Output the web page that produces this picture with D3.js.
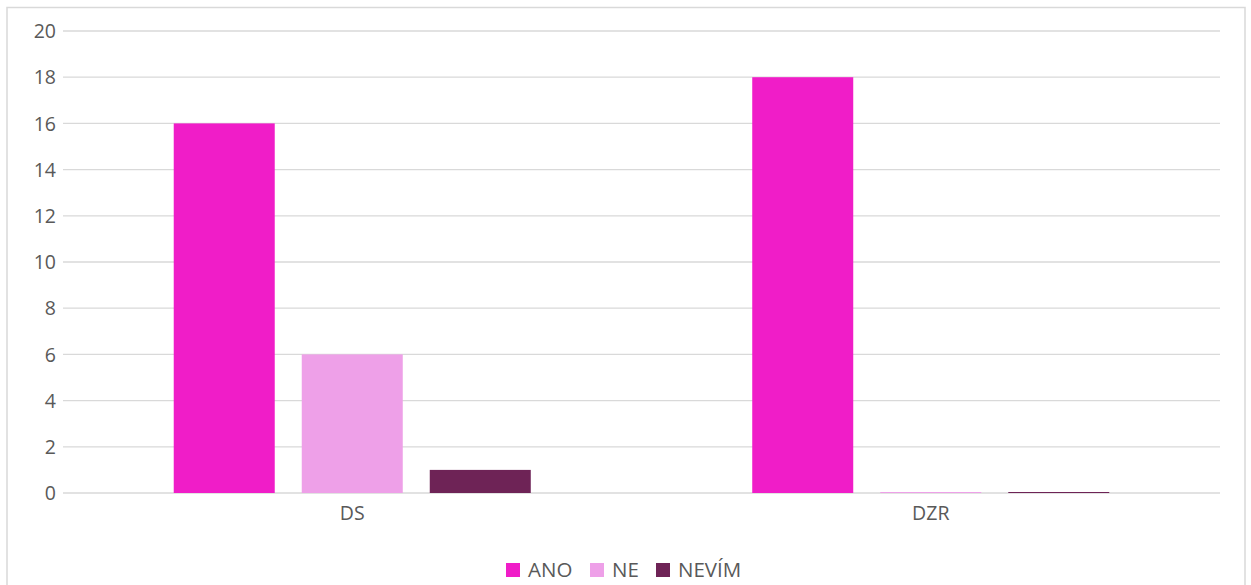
<!DOCTYPE html>
<html>
<head>
<meta charset="utf-8">
<script src="https://cdn.jsdelivr.net/npm/d3@7"></script>
<style>
  html, body { margin: 0; padding: 0; background: #fff; }
  svg { display: block; font-family: "Open Sans", "Noto Sans", sans-serif; }
</style>
</head>
<body>
<svg id="chart" width="1251" height="585"></svg>
<script>
// Survey answers per facility type
const categories = ["DS", "DZR"];
const seriesNames = ["ANO", "NE", "NEVÍM"];
const valuesANO = [16, 18];
const valuesNE = [6, 0];
const valuesNEVIM = [1, 0];
const yTicks = [0, 2, 4, 6, 8, 10, 12, 14, 16, 18, 20];
const colors = ["#F01DC8", "#EEA0E8", "#6E2356"];

const seriesValues = [valuesANO, valuesNE, valuesNEVIM];
const svg = d3.select("#chart");
const textColor = "#595959";
const gridColor = "#d9d9d9";
const fontSize = "19.5px";

// outer frame
svg.append("rect")
  .attr("x", 7).attr("y", 7.5)
  .attr("width", 1238).attr("height", 600)
  .attr("fill", "none").attr("stroke", gridColor).attr("stroke-width", 1.5);

const plot = { left: 63, right: 1220, top: 31, bottom: 493 };

const y = d3.scaleLinear().domain([0, 20]).range([plot.bottom, plot.top]);
const x0 = d3.scaleBand().domain(categories).range([plot.left, plot.right]).padding(0);
const x1 = d3.scaleBand().domain(seriesNames).range([0, x0.bandwidth()])
  .paddingInner(0.211).paddingOuter(0.865);

// gridlines
svg.append("g").selectAll("line").data(yTicks).join("line")
  .attr("x1", plot.left).attr("x2", plot.right)
  .attr("y1", d => y(d)).attr("y2", d => y(d))
  .attr("stroke", gridColor).attr("stroke-width", 1.3);

// y axis labels
const yAxis = d3.axisLeft(y).tickValues(yTicks).tickSize(0).tickPadding(7);
const gy = svg.append("g").attr("transform", `translate(${plot.left},0)`).call(yAxis);
gy.select(".domain").remove();
gy.selectAll("text").attr("fill", textColor).attr("dy", "0.34em").style("font-size", fontSize)
  .style("font-family", "'Open Sans', sans-serif");

// bars
const rows = categories.map((c, i) => ({ cat: c, vals: seriesNames.map((s, j) => ({ s, j, v: seriesValues[j][i] })) }));
const groups = svg.append("g").selectAll("g").data(rows).join("g")
  .attr("transform", d => `translate(${x0(d.cat)},0)`);
groups.selectAll("rect").data(d => d.vals).join("rect")
  .attr("x", d => x1(d.s))
  .attr("y", d => y(d.v) - (d.v === 0 ? 1 : 0))
  .attr("width", x1.bandwidth())
  .attr("height", d => Math.max(y(0) - y(d.v), 1))
  .attr("fill", d => colors[d.j]);

// x axis labels
const xAxis = d3.axisBottom(x0).tickSize(0).tickPadding(13);
const gx = svg.append("g").attr("transform", `translate(0,${plot.bottom})`).call(xAxis);
gx.select(".domain").remove();
gx.selectAll("text").attr("fill", textColor).style("font-size", fontSize)
  .style("font-family", "'Open Sans', sans-serif");

// legend
const legendX = [506, 590, 656];
const lg = svg.append("g").selectAll("g").data(seriesNames).join("g")
  .attr("transform", (d, i) => `translate(${legendX[i]},563)`);
lg.append("rect").attr("width", 14).attr("height", 14).attr("fill", (d, i) => colors[i]);
lg.append("text").attr("x", 22).attr("y", 7).attr("dy", "0.35em")
  .attr("fill", textColor).style("font-size", "20.5px").text(d => d);
</script>
</body>
</html>
